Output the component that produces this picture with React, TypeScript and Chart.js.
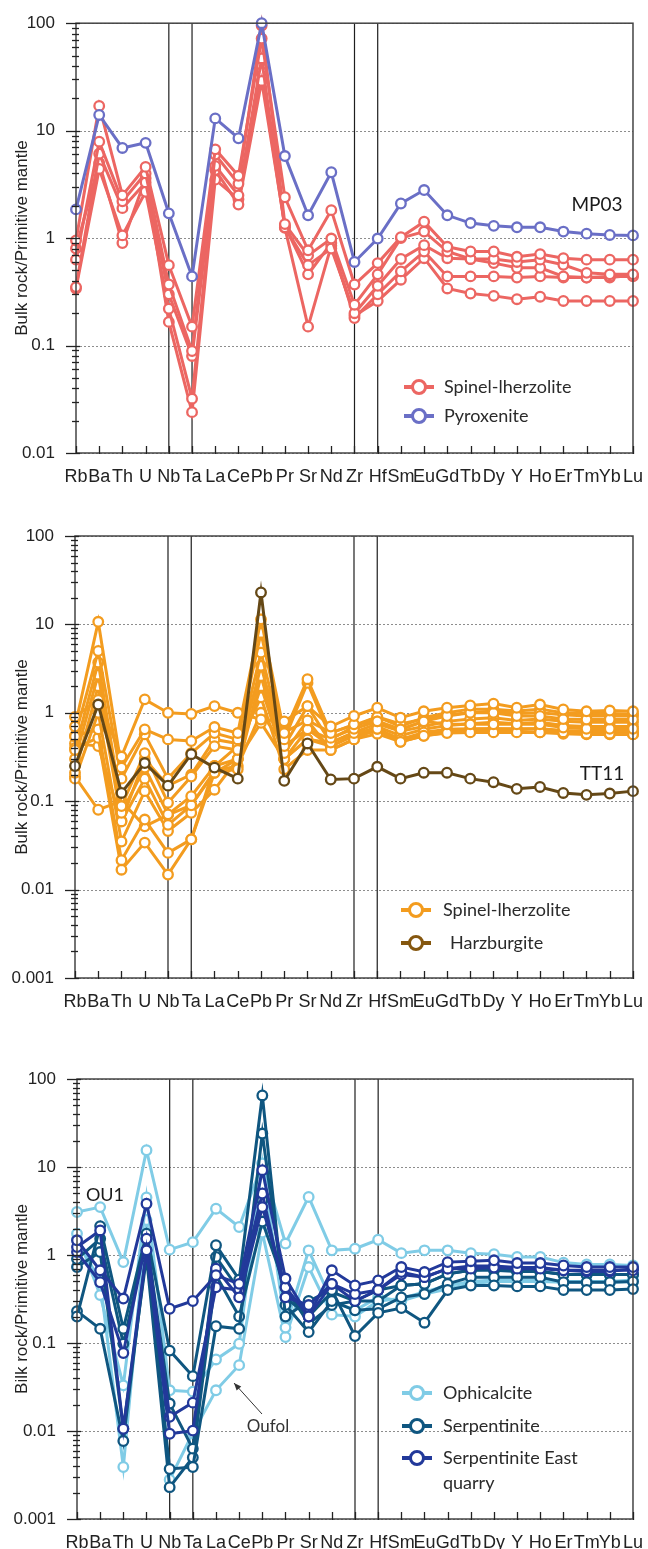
import React, { useEffect, useRef } from "react";
import { Chart, registerables } from "chart.js";
Chart.register(...registerables);

// ---------- categories ----------
const ELEMENTS = ["Rb","Ba","Th","U","Nb","Ta","La","Ce","Pb","Pr","Sr","Nd","Zr","Hf","Sm","Eu","Gd","Tb","Dy","Y","Ho","Er","Tm","Yb","Lu"];
const MARKED = ["Nb","Ta","Zr","Hf"];

// ---------- panel 1 ----------
const P1_PYROXENITE = [1.85,14,6.9,7.7,1.7,0.44,13,8.5,100,5.8,1.63,4.1,0.6,0.99,2.1,2.8,1.63,1.38,1.3,1.26,1.26,1.15,1.1,1.07,1.06];
const P1_SPL_A = [0.95,17,2.5,4.6,0.56,0.15,6.7,3.8,72,2.4,0.77,1.82,0.37,0.585,1.02,1.42,0.83,0.75,0.75,0.67,0.71,0.65,0.63,0.63,0.63];
const P1_SPL_B = [0.63,7.9,2.2,4.0,0.37,0.089,6.0,3.2,95,1.35,0.69,0.99,0.24,0.46,1.0,1.15,0.75,0.64,0.64,0.6,0.63,0.565,0.475,0.46,0.46];
const P1_SPL_C = [0.35,6.1,1.9,3.3,0.3,0.08,4.7,2.5,47,1.26,0.56,0.8,0.2,0.36,0.64,0.86,0.65,0.64,0.585,0.53,0.53,0.44,0.43,0.44,0.44];
const P1_SPL_D = [0.34,4.4,1.06,2.7,0.22,0.032,4.3,2.05,29,1.3,0.46,0.9,0.18,0.3,0.49,0.75,0.44,0.44,0.44,0.43,0.44,0.43,0.43,0.43,0.45];
const P1_SPL_E = [0.8,5.0,0.9,3.6,0.166,0.024,3.5,2.3,35,1.25,0.15,0.85,0.19,0.26,0.41,0.65,0.34,0.305,0.29,0.27,0.285,0.26,0.26,0.26,0.26];

// ---------- panel 2 ----------
const P2_HARZ_TT11 = [0.25,1.24,0.124,0.27,0.15,0.34,0.24,0.18,23,0.17,0.45,0.176,0.18,0.245,0.18,0.21,0.21,0.18,0.164,0.138,0.145,0.124,0.118,0.122,0.13];
const P2_SPL_1 = [0.9,1.4,0.32,1.42,1.0,0.97,1.19,1.0,0.84,0.8,1.19,0.7,0.92,1.14,0.88,1.04,1.14,1.21,1.27,1.14,1.24,1.09,1.04,1.06,1.04];
const P2_SPL_2 = [0.7,10.7,0.24,0.65,0.5,0.48,0.69,0.59,11.4,0.59,2.4,0.59,0.74,0.8,0.65,0.8,0.92,1.0,1.0,0.92,0.92,0.85,0.84,0.84,0.84];
const P2_SPL_3 = [0.54,5.0,0.18,0.57,0.18,0.35,0.59,0.5,8.0,0.5,2.18,0.52,0.66,0.8,0.65,0.8,0.74,0.74,0.74,0.74,0.74,0.68,0.66,0.66,0.66];
const P2_SPL_4 = [0.38,3.7,0.088,0.35,0.096,0.19,0.42,0.38,4.8,0.42,1.19,0.46,0.59,0.66,0.47,0.55,0.59,0.6,0.6,0.6,0.6,0.6,0.58,0.58,0.57];
const P2_SPL_5 = [0.3,2.7,0.074,0.24,0.071,0.114,0.25,0.3,3.4,0.35,0.82,0.38,0.5,0.66,0.5,0.6,0.65,0.66,0.66,0.66,0.66,0.63,0.62,0.62,0.62];
const P2_SPL_6 = [0.21,2.0,0.059,0.18,0.054,0.09,0.21,0.23,2.6,0.3,0.65,0.42,0.55,0.7,0.55,0.65,0.72,0.75,0.78,0.75,0.78,0.72,0.7,0.7,0.7];
const P2_SPL_7 = [0.18,1.0,0.035,0.13,0.046,0.074,0.135,0.3,2.0,0.3,0.5,0.46,0.6,0.75,0.62,0.7,0.8,0.85,0.88,0.82,0.85,0.8,0.78,0.78,0.78];
const P2_SPL_8 = [0.55,0.65,0.0215,0.062,0.026,0.037,0.25,0.42,1.5,0.23,0.38,0.38,0.5,0.58,0.47,0.55,0.6,0.62,0.62,0.62,0.6,0.58,0.57,0.57,0.57];
const P2_SPL_9 = [0.4,0.52,0.0168,0.034,0.0148,0.037,0.21,0.3,0.77,0.3,0.5,0.42,0.55,0.62,0.5,0.58,0.62,0.65,0.66,0.65,0.66,0.62,0.6,0.6,0.6];
const P2_SPL_10 = [0.19,0.08,0.1,0.052,0.07,0.09,0.22,0.25,1.0,0.42,0.65,0.5,0.7,0.9,0.75,0.85,0.95,1.0,1.05,0.98,1.0,0.95,0.92,0.92,0.92];
const P2_SPL_11 = [0.45,0.42,0.06,0.3,0.15,0.2,0.5,0.45,2.8,0.6,0.82,0.6,0.72,0.9,0.7,0.88,1.0,1.1,1.1,1.05,1.1,1.0,0.98,0.98,0.97];

// ---------- panel 3 ----------
const P3_OPH_OU1 = [3.08,3.5,0.83,15.5,1.15,1.4,3.36,2.08,11,1.35,4.57,1.13,1.18,1.49,1.05,1.13,1.13,1.05,1.02,0.95,0.95,0.82,0.78,0.78,0.76];
const P3_OPH_2 = [1.75,0.35,0.033,4.5,0.029,0.028,0.065,0.098,11,0.15,1.13,0.3,0.235,0.33,0.3,0.36,0.41,0.47,0.5,0.5,0.5,0.49,0.49,0.49,0.5];
const P3_OPH_OUFOL = [1.5,0.5,0.0039,2.5,0.0028,0.0095,0.029,0.056,1.8,0.117,0.73,0.21,0.2,0.3,0.32,0.38,0.45,0.5,0.52,0.52,0.52,0.5,0.5,0.5,0.52];
const P3_SERP_1 = [0.2,2.13,0.145,1.75,0.082,0.042,1.29,0.525,65,0.2,0.3,0.4,0.12,0.22,0.25,0.17,0.4,0.45,0.45,0.44,0.44,0.4,0.4,0.4,0.41];
const P3_SERP_2 = [0.23,0.145,0.0077,1.13,0.0037,0.0039,0.155,0.145,24,0.27,0.133,0.3,0.235,0.245,0.33,0.36,0.47,0.56,0.56,0.56,0.56,0.49,0.49,0.49,0.5];
const P3_SERP_3 = [0.9,1.53,0.098,1.53,0.0205,0.0063,0.95,0.4,4.2,0.33,0.2,0.38,0.3,0.3,0.45,0.47,0.61,0.67,0.7,0.65,0.65,0.6,0.6,0.6,0.6];
const P3_SERP_4 = [0.73,1.08,0.0106,0.95,0.0023,0.005,0.59,0.2,2.4,0.43,0.165,0.27,0.3,0.4,0.45,0.47,0.61,0.67,0.67,0.65,0.65,0.6,0.6,0.6,0.6];
const P3_EAST_1 = [1.47,0.67,0.32,3.83,0.245,0.3,0.59,0.47,9.2,0.54,0.2,0.67,0.45,0.515,0.73,0.64,0.83,0.85,0.87,0.81,0.81,0.76,0.73,0.73,0.73];
const P3_EAST_2 = [1.23,1.9,0.0106,1.13,0.0093,0.0101,0.7,0.33,3.5,0.43,0.2,0.47,0.36,0.4,0.64,0.56,0.7,0.7,0.72,0.7,0.7,0.67,0.67,0.67,0.67];
const P3_EAST_3 = [1.08,0.49,0.077,1.53,0.0145,0.021,0.43,0.4,5.0,0.33,0.27,0.47,0.3,0.4,0.6,0.56,0.7,0.75,0.75,0.72,0.72,0.67,0.65,0.65,0.7];

// ---------- colours ----------
const C_SALMON = "#EC6662";
const C_PYROX = "#6A6FC6";
const C_ORANGE = "#F39C1F";
const C_HARZ = "#654816";
const C_HARZ_LEG = "#85570F";
const C_OPH = "#80CCE6";
const C_SERP = "#0F5680";
const C_EAST = "#22399A";

const FONT_AXIS = "'Liberation Sans Narrow', 'Liberation Sans', Arial, sans-serif";
const FONT_TEXT = "Lato, 'Open Sans', sans-serif";

type Line = { color: string; data: number[] };
type LegendItem = { label: string; color: string; y: number; textX: number; extra?: string };
type Note = { text: string; x: number; y: number; size: number; color?: string };
type PanelCfg = {
  top: number;
  height: number;
  area: { left: number; right: number; top: number; bottom: number };
  yMin: number;
  yMax: number;
  title: string;
  lines: Line[];
  legendX: number;
  legend: LegendItem[];
  notes: Note[];
  arrow?: { x1: number; y1: number; x2: number; y2: number };
};

const isPow10 = (v: number) => Math.abs(Math.log10(v) - Math.round(Math.log10(v))) < 1e-6;
const fmt = (v: number) => {
  const e = Math.round(Math.log10(v));
  return e >= 0 ? String(Math.pow(10, e)) : Math.pow(10, e).toFixed(-e);
};

const PANELS: PanelCfg[] = [
  {
    top: 0,
    height: 485,
    area: { left: 76, right: 639, top: 13, bottom: 453 },
    yMin: 0.01,
    yMax: 100,
    title: "Bulk rock/Primitive mantle",
    lines: [
      { color: C_PYROX, data: P1_PYROXENITE },
      { color: C_SALMON, data: P1_SPL_A },
      { color: C_SALMON, data: P1_SPL_B },
      { color: C_SALMON, data: P1_SPL_C },
      { color: C_SALMON, data: P1_SPL_D },
      { color: C_SALMON, data: P1_SPL_E },
    ],
    legendX: 419,
    legend: [
      { label: "Spinel-lherzolite", color: C_SALMON, y: 387, textX: 444 },
      { label: "Pyroxenite", color: C_PYROX, y: 416, textX: 444 },
    ],
    notes: [{ text: "MP03", x: 597, y: 205, size: 19 }],
  },
  {
    top: 500,
    height: 525,
    area: { left: 75, right: 639, top: 536, bottom: 978 },
    yMin: 0.001,
    yMax: 100,
    title: "Bulk rock/Primitive mantle",
    lines: [
      { color: C_HARZ, data: P2_HARZ_TT11 },
      { color: C_ORANGE, data: P2_SPL_1 },
      { color: C_ORANGE, data: P2_SPL_2 },
      { color: C_ORANGE, data: P2_SPL_3 },
      { color: C_ORANGE, data: P2_SPL_4 },
      { color: C_ORANGE, data: P2_SPL_5 },
      { color: C_ORANGE, data: P2_SPL_6 },
      { color: C_ORANGE, data: P2_SPL_7 },
      { color: C_ORANGE, data: P2_SPL_8 },
      { color: C_ORANGE, data: P2_SPL_9 },
      { color: C_ORANGE, data: P2_SPL_10 },
      { color: C_ORANGE, data: P2_SPL_11 },
    ],
    legendX: 416,
    legend: [
      { label: "Spinel-lherzolite", color: C_ORANGE, y: 910, textX: 443 },
      { label: "Harzburgite", color: C_HARZ_LEG, y: 943, textX: 450 },
    ],
    notes: [{ text: "TT11", x: 602, y: 774, size: 19 }],
  },
  {
    top: 1040,
    height: 509,
    area: { left: 77, right: 643, top: 1079, bottom: 1519 },
    yMin: 0.001,
    yMax: 100,
    title: "Bilk rock/Primitive mantle",
    lines: [
      { color: C_EAST, data: P3_EAST_1 },
      { color: C_EAST, data: P3_EAST_2 },
      { color: C_EAST, data: P3_EAST_3 },
      { color: C_SERP, data: P3_SERP_1 },
      { color: C_SERP, data: P3_SERP_2 },
      { color: C_SERP, data: P3_SERP_3 },
      { color: C_SERP, data: P3_SERP_4 },
      { color: C_OPH, data: P3_OPH_OU1 },
      { color: C_OPH, data: P3_OPH_2 },
      { color: C_OPH, data: P3_OPH_OUFOL },
    ],
    legendX: 417,
    legend: [
      { label: "Ophicalcite", color: C_OPH, y: 1393, textX: 443 },
      { label: "Serpentinite", color: C_SERP, y: 1426, textX: 443 },
      { label: "Serpentinite East", color: C_EAST, y: 1458, textX: 443, extra: "quarry" },
    ],
    notes: [
      { text: "OU1", x: 105, y: 1195, size: 18 },
      { text: "Oufol", x: 268, y: 1427, size: 17, color: "#333" },
    ],
    arrow: { x1: 262, y1: 1414, x2: 234, y2: 1383 },
  },
];

function makeDecor(cfg: PanelCfg) {
  const oy = cfg.top;
  return {
    id: "decor" + cfg.top,
    beforeDatasetsDraw(chart: any) {
      const { ctx, chartArea: a, scales } = chart;
      const y = scales.y;
      const x = scales.x;
      ctx.save();
      // dotted decade gridlines
      ctx.strokeStyle = "#8d8d8d";
      ctx.lineWidth = 1;
      ctx.setLineDash([2, 2]);
      for (let e = Math.round(Math.log10(cfg.yMin)); e <= Math.round(Math.log10(cfg.yMax)); e++) {
        const py = Math.round(y.getPixelForValue(Math.pow(10, e))) + 0.5;
        ctx.beginPath();
        ctx.moveTo(a.left, py);
        ctx.lineTo(a.right, py);
        ctx.stroke();
      }
      ctx.setLineDash([]);
      // vertical marker lines
      ctx.strokeStyle = "#1e1e1e";
      ctx.lineWidth = 1.2;
      MARKED.forEach((el) => {
        const px = x.getPixelForValue(ELEMENTS.indexOf(el));
        ctx.beginPath();
        ctx.moveTo(px, a.top);
        ctx.lineTo(px, a.bottom);
        ctx.stroke();
      });
      ctx.restore();
    },
    afterDraw(chart: any) {
      const { ctx, chartArea: a, scales } = chart;
      const y = scales.y;
      const x = scales.x;
      ctx.save();
      // frame
      ctx.strokeStyle = "#444";
      ctx.lineWidth = 1.5;
      ctx.strokeRect(a.left, a.top, a.right - a.left, a.bottom - a.top);
      // y ticks
      ctx.strokeStyle = "#222";
      ctx.lineWidth = 1.3;
      const e0 = Math.round(Math.log10(cfg.yMin));
      const e1 = Math.round(Math.log10(cfg.yMax));
      for (let e = e0; e <= e1; e++) {
        for (let m = 1; m <= 9; m++) {
          if (e === e1 && m > 1) break;
          const v = m * Math.pow(10, e);
          const py = Math.round(y.getPixelForValue(v)) + 0.5;
          ctx.beginPath();
          if (m === 1) {
            ctx.moveTo(a.left - 10, py);
            ctx.lineTo(a.left + 4, py);
          } else {
            ctx.moveTo(a.left - 4, py);
            ctx.lineTo(a.left + 3, py);
          }
          ctx.stroke();
        }
      }
      // x ticks
      ELEMENTS.forEach((_, i) => {
        const px = Math.round(x.getPixelForValue(i)) + 0.5;
        ctx.beginPath();
        ctx.moveTo(px, a.bottom + 1);
        ctx.lineTo(px, a.bottom - 7);
        ctx.stroke();
      });
      // y title
      ctx.save();
      ctx.translate(22, (a.top + a.bottom) / 2);
      ctx.rotate(-Math.PI / 2);
      ctx.fillStyle = "#222";
      ctx.font = `17px ${FONT_AXIS}`;
      ctx.textAlign = "center";
      ctx.textBaseline = "middle";
      ctx.fillText(cfg.title, 0, 0);
      ctx.restore();
      // legend
      cfg.legend.forEach((it) => {
        const ly = it.y - oy;
        ctx.strokeStyle = it.color;
        ctx.lineWidth = 4;
        ctx.beginPath();
        ctx.moveTo(cfg.legendX - 15, ly);
        ctx.lineTo(cfg.legendX + 15, ly);
        ctx.stroke();
        ctx.beginPath();
        ctx.arc(cfg.legendX, ly, 6.5, 0, Math.PI * 2);
        ctx.fillStyle = "#fff";
        ctx.fill();
        ctx.lineWidth = 3;
        ctx.stroke();
        ctx.fillStyle = "#2a2a2a";
        ctx.font = `18px ${FONT_TEXT}`;
        ctx.textAlign = "left";
        ctx.textBaseline = "middle";
        ctx.fillText(it.label, it.textX, ly);
        if (it.extra) ctx.fillText(it.extra, it.textX, ly + 25);
      });
      // notes
      cfg.notes.forEach((n) => {
        ctx.fillStyle = n.color || "#1a1a1a";
        ctx.font = `${n.size}px ${FONT_TEXT}`;
        ctx.textAlign = "center";
        ctx.textBaseline = "middle";
        ctx.fillText(n.text, n.x, n.y - oy);
      });
      // arrow
      if (cfg.arrow) {
        const { x1, y1, x2, y2 } = cfg.arrow;
        const ay1 = y1 - oy;
        const ay2 = y2 - oy;
        ctx.strokeStyle = "#333";
        ctx.fillStyle = "#333";
        ctx.lineWidth = 1;
        ctx.beginPath();
        ctx.moveTo(x1, ay1);
        ctx.lineTo(x2, ay2);
        ctx.stroke();
        const ang = Math.atan2(ay2 - ay1, x2 - x1);
        ctx.beginPath();
        ctx.moveTo(x2, ay2);
        ctx.lineTo(x2 - 8 * Math.cos(ang - 0.4), ay2 - 8 * Math.sin(ang - 0.4));
        ctx.lineTo(x2 - 8 * Math.cos(ang + 0.4), ay2 - 8 * Math.sin(ang + 0.4));
        ctx.closePath();
        ctx.fill();
      }
      ctx.restore();
    },
  };
}

function Panel({ cfg }: { cfg: PanelCfg }) {
  const ref = useRef<HTMLCanvasElement>(null);
  useEffect(() => {
    const canvas = ref.current;
    if (!canvas) return;
    const padTop = cfg.area.top - cfg.top;
    const xHeight = cfg.top + cfg.height - cfg.area.bottom;
    const chart = new Chart(canvas, {
      type: "line",
      data: {
        labels: ELEMENTS,
        datasets: cfg.lines.map((l) => ({
          data: l.data,
          borderColor: l.color,
          backgroundColor: "#ffffff",
          borderWidth: 3,
          pointRadius: 4.8,
          pointBorderWidth: 2.3,
          pointBackgroundColor: "#ffffff",
          pointBorderColor: l.color,
          tension: 0,
          fill: false,
          clip: false as any,
        })),
      },
      options: {
        responsive: false,
        devicePixelRatio: 1,
        animation: false,
        events: [],
        layout: { padding: { left: 0, right: 648 - cfg.area.right, top: padTop, bottom: 0 } },
        plugins: { legend: { display: false }, tooltip: { enabled: false }, title: { display: false } },
        scales: {
          x: {
            type: "category",
            offset: false,
            grid: { display: false },
            border: { display: false },
            ticks: {
              autoSkip: false,
              maxRotation: 0,
              minRotation: 0,
              padding: 5,
              color: "#222",
              font: { family: FONT_AXIS, size: 18 },
            },
            afterFit: (s: any) => {
              s.height = xHeight;
            },
          },
          y: {
            type: "logarithmic",
            min: cfg.yMin,
            max: cfg.yMax,
            grid: { display: false },
            border: { display: false },
            ticks: {
              autoSkip: false,
              padding: 13,
              color: "#222",
              font: { family: FONT_AXIS, size: 17 },
              callback: (v: any) => (isPow10(Number(v)) ? fmt(Number(v)) : ""),
            },
            afterFit: (s: any) => {
              s.width = cfg.area.left;
            },
          },
        },
      },
      plugins: [makeDecor(cfg)],
    });
    return () => chart.destroy();
  }, [cfg]);
  return (
    <canvas
      ref={ref}
      width={648}
      height={cfg.height}
      style={{ position: "absolute", left: 0, top: cfg.top, width: 648, height: cfg.height, display: "block" }}
    />
  );
}

export default function App() {
  return (
    <div style={{ position: "absolute", left: 0, top: 0, width: 648, height: 1549, background: "#ffffff", overflow: "hidden" }}>
      {PANELS.map((p) => (
        <Panel key={p.top} cfg={p} />
      ))}
    </div>
  );
}
